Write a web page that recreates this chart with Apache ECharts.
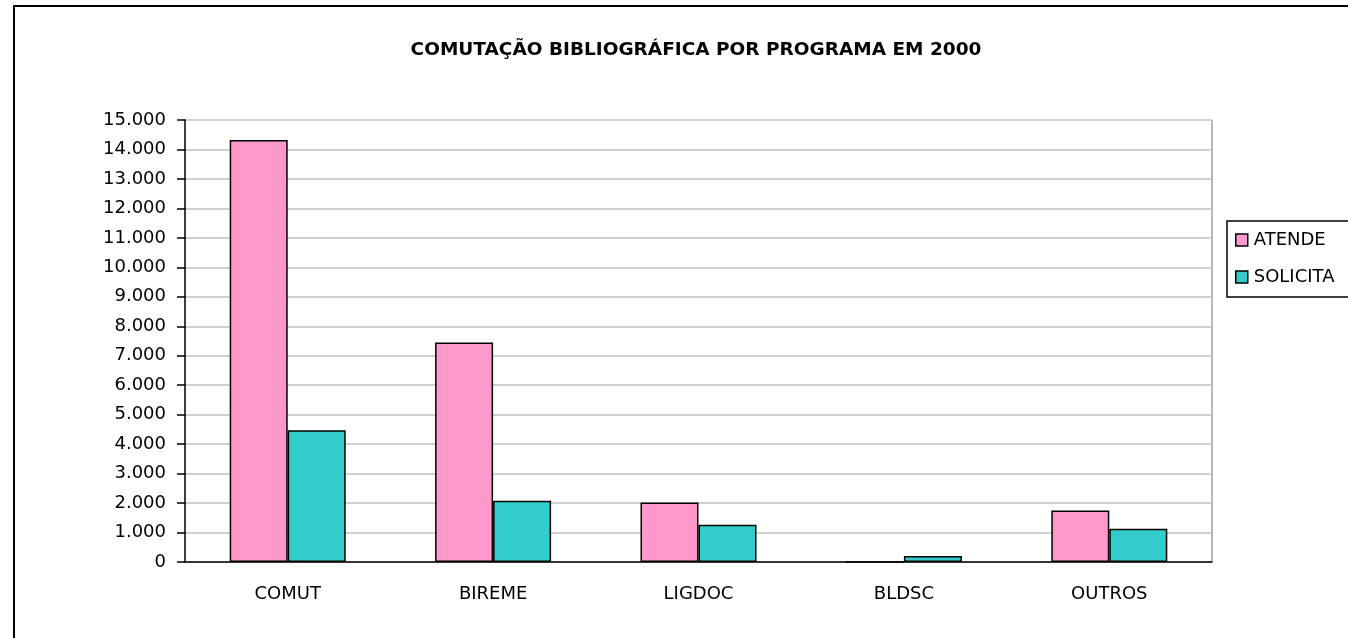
<!DOCTYPE html>
<html>
<head>
<meta charset="utf-8">
<script src="https://cdn.jsdelivr.net/npm/echarts@6/dist/echarts.min.js"></script>
<style>
  html, body { margin: 0; padding: 0; background: #fff; }
  #frame { position: absolute; left: 13px; top: 5px; width: 1400px; height: 700px; border: 2px solid #000; box-sizing: border-box; }
  #chart { position: absolute; left: 0; top: 0; width: 1348px; height: 638px; }
</style>
</head>
<body>
<div id="frame"></div>
<div id="chart"></div>
<script>
const categories = ["COMUT", "BIREME", "LIGDOC", "BLDSC", "OUTROS"];
const atende = [14320, 7450, 2020, 0, 1750];
const solicita = [4470, 2080, 1265, 200, 1130];

const chart = echarts.init(document.getElementById("chart"), null, { renderer: "canvas" });
const fmt = (v) => String(v).replace(/\B(?=(\d{3})+(?!\d))/g, ".");
const font = "'DejaVu Sans', sans-serif";

chart.setOption({
  animation: false,
  backgroundColor: "transparent",
  textStyle: { fontFamily: font },
  title: {
    text: "COMUTAÇÃO BIBLIOGRÁFICA POR PROGRAMA EM 2000",
    left: 691, top: 36, textAlign: "center",
    textStyle: { fontSize: 18.5, fontWeight: "bold", color: "#000", fontFamily: font }
  },
  legend: {
    orient: "vertical",
    left: 1227, top: 221,
    padding: [9, 40, 10, 8],
    itemGap: 17,
    itemWidth: 12, itemHeight: 12,
    borderColor: "#000", borderWidth: 1.5,
    icon: "rect",
    itemStyle: { borderColor: "#000", borderWidth: 1.5 },
    textStyle: { fontSize: 18, lineHeight: 20, color: "#000", padding: [0, 0, 0, 1] },
    data: ["ATENDE", "SOLICITA"]
  },
  grid: { left: 185, top: 120, right: 136, bottom: 76 },
  xAxis: {
    type: "category",
    data: categories,
    axisLine: { lineStyle: { color: "#000", width: 1.5 } },
    axisTick: { length: 7, lineStyle: { color: "#000", width: 1.5 } },
    axisLabel: { color: "#000", fontSize: 18, margin: 23 },
    splitLine: { show: false }
  },
  yAxis: {
    type: "value",
    min: 0, max: 15000, interval: 1000,
    axisLine: { show: true, lineStyle: { color: "#000", width: 1.5 } },
    axisTick: { show: true, length: 8, lineStyle: { color: "#000", width: 1.5 } },
    axisLabel: { color: "#000", fontSize: 18, margin: 19, formatter: fmt },
    splitLine: { lineStyle: { color: "#c0c0c0", width: 1.5 } }
  },
  graphic: [{
    type: "line",
    shape: { x1: 1212, y1: 120, x2: 1212, y2: 562 },
    style: { stroke: "#a0a0a0", lineWidth: 1.5 }
  }],
  series: [
    {
      name: "ATENDE", type: "bar", data: atende,
      barWidth: 58, barGap: "0%",
      itemStyle: { color: "#ff99cc", borderColor: "#000", borderWidth: 1.5 }
    },
    {
      name: "SOLICITA", type: "bar", data: solicita,
      barWidth: 58,
      itemStyle: { color: "#33cccc", borderColor: "#000", borderWidth: 1.5 }
    }
  ]
});
</script>
</body>
</html>
